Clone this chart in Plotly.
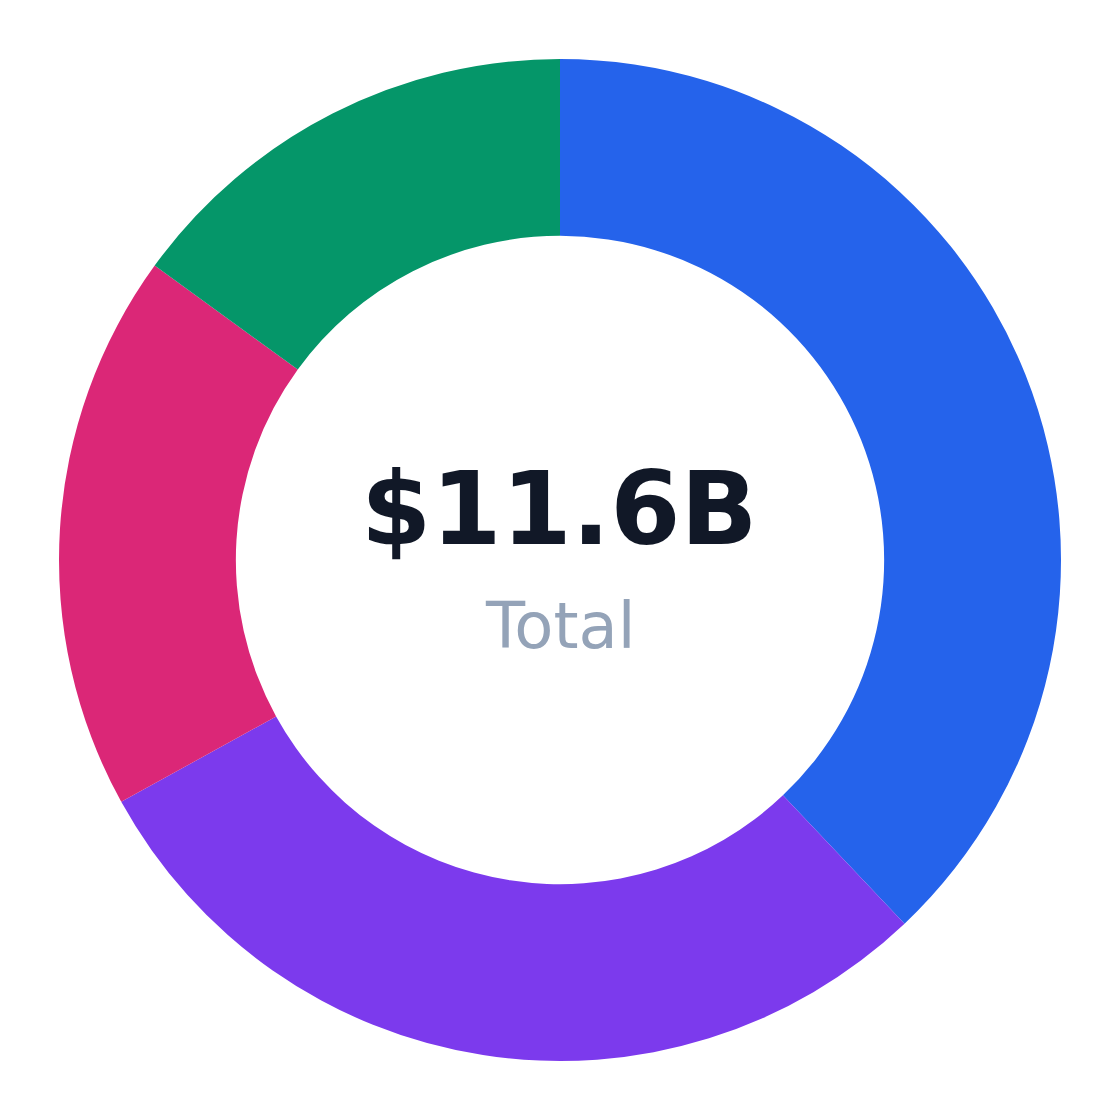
import plotly.graph_objects as go

# Segment values in billions of dollars
segments = ["Segment A", "Segment B", "Segment C", "Segment D"]
values = [4.4, 3.37, 2.09, 1.74]
colors = ["#2563eb", "#7c3aed", "#db2777", "#059669"]

total_label = "$11.6B"
sub_label = "Total"

fig = go.Figure(
    go.Pie(
        labels=segments,
        values=values,
        hole=0.647,
        sort=False,
        direction="clockwise",
        rotation=0,
        marker=dict(colors=colors, line=dict(width=0)),
        textinfo="none",
        hoverinfo="label+value+percent",
    )
)

# Center labels
fig.add_annotation(
    text="<b>" + total_label + "</b>",
    x=0.5, y=0.551, xref="paper", yref="paper",
    showarrow=False, yanchor="middle", xshift=-1,
    font=dict(family="DejaVu Sans", size=101, color="#111827"),
)
fig.add_annotation(
    text=sub_label,
    x=0.5, y=0.434, xref="paper", yref="paper",
    showarrow=False, yanchor="middle",
    font=dict(family="DejaVu Sans", size=64, color="#94a3b8"),
)

fig.update_layout(
    width=1120,
    height=1120,
    showlegend=False,
    paper_bgcolor="white",
    plot_bgcolor="white",
    margin=dict(l=51, r=67, t=51, b=67),
)

fig.write_html("out.html")
